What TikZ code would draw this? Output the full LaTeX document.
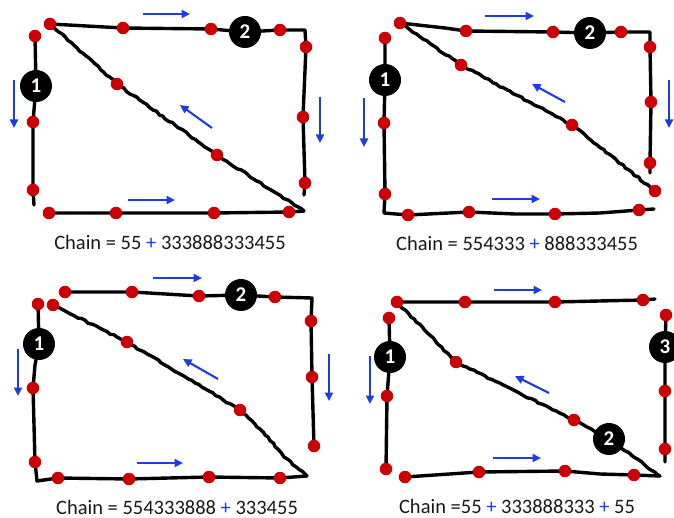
\documentclass[tikz,border=0pt]{standalone}
\usepackage{fontspec}
\setmainfont{Carlito}
\usetikzlibrary{arrows.meta,decorations.pathmorphing}
\definecolor{dotred}{RGB}{204,0,0}
\definecolor{flowblue}{RGB}{30,60,225}
\definecolor{ink}{RGB}{25,25,25}
\newcommand{\bplus}{\textcolor{flowblue}{+}}
\tikzset{
  wire/.style={line width=3.4pt, line cap=round, line join=round, black},
  rough/.style={decorate, decoration={random steps, segment length=4pt, amplitude=0.8pt}},
  dot/.style={circle, fill=dotred, inner sep=0pt, minimum size=12.5pt},
  badge/.style={circle, fill=black, inner sep=0pt, minimum size=32pt, text=white,
    font=\fontsize{21}{21}\selectfont\bfseries},
  flow/.style={flowblue, line width=2.1pt, -{Triangle[length=8.5pt,width=8pt]}},
  caption/.style={anchor=base, text=ink, inner sep=0pt, font=\fontsize{20.5}{24}\selectfont},
}
\begin{document}
\begin{tikzpicture}[x=1pt,y=-1pt]
\pgfmathsetseed{7}
\useasboundingbox (0,0) rectangle (674,518);
\fill[white] (0,0) rectangle (674,518);

% ---------------- top-left loop ----------------
\path (35,36) coordinate (A-l0) (36,86) coordinate (A-l1) (33,122) coordinate (A-l2)
      (33,190) coordinate (A-l3) (34,205) coordinate (A-l4)
      (50,24) coordinate (A-t0) (123,28) coordinate (A-t1) (211,29) coordinate (A-t2)
      (245,32) coordinate (A-t3) (280,30) coordinate (A-t4) (305,30) coordinate (A-t5)
      (306,47) coordinate (A-r1) (303,117) coordinate (A-r2) (305,183) coordinate (A-r3)
      (304,195) coordinate (A-r4)
      (49,213) coordinate (A-b0) (116,213) coordinate (A-b1) (214,213) coordinate (A-b2)
      (289,212) coordinate (A-b3) (304,211) coordinate (A-b4)
      (117,84) coordinate (A-g1) (217,155) coordinate (A-g2)
      (143,14) coordinate (A-ua) (190,14) coordinate (A-ub)
      (14,80) coordinate (A-va) (14,128) coordinate (A-vb)
      (320,97) coordinate (A-wa) (320,143) coordinate (A-wb)
      (128,200) coordinate (A-xa) (175,200) coordinate (A-xb)
      (212,128) coordinate (A-ya) (180,105) coordinate (A-yb);
\draw[wire] (A-l0) -- (A-l1) -- (A-l2) -- (A-l3) -- (A-l4);
\draw[wire] (A-t0) -- (A-t1) -- (A-t2) -- (A-t3) -- (A-t4) -- (A-t5)
            -- (A-r1) -- (A-r2) -- (A-r3) -- (A-r4);
\draw[wire] (A-b0) -- (A-b1) -- (A-b2) -- (A-b3) -- (A-b4);
\draw[wire, rough] (A-t0) -- (A-g1) -- (A-g2) -- (A-b4);
\foreach \p in {l0,l2,l3,t0,t1,t2,t4,r1,r2,r3,b0,b1,b2,b3,g1,g2}
  \node[dot] (A-d\p) at (A-\p) {};
\node[badge] (A-one) at (A-l1) {1};
\node[badge] (A-two) at (A-t3) {2};
\draw[flow] (A-ua) -- (A-ub);
\draw[flow] (A-va) -- (A-vb);
\draw[flow] (A-wa) -- (A-wb);
\draw[flow] (A-xa) -- (A-xb);
\draw[flow] (A-ya) -- (A-yb);
\node[caption] (A-cap) at (170,250) {Chain = 55 \bplus{} 333888333455};

% ---------------- top-right loop ----------------
\path (385,38) coordinate (B-l0) (385,80) coordinate (B-l1) (384,123) coordinate (B-l2)
      (385,194) coordinate (B-l3) (384,213) coordinate (B-l4)
      (408,215) coordinate (B-b1) (469,212) coordinate (B-b2) (515,214) coordinate (B-bm)
      (555,214) coordinate (B-b3) (600,213) coordinate (B-bn) (639,210) coordinate (B-b4)
      (654,209) coordinate (B-b5)
      (400,23) coordinate (B-t0) (445,28) coordinate (B-tm) (466,31) coordinate (B-t1)
      (553,32) coordinate (B-t2) (590,33) coordinate (B-t3) (621,32) coordinate (B-t4)
      (650,32) coordinate (B-t5)
      (650,47) coordinate (B-r1) (651,102) coordinate (B-r2) (650,163) coordinate (B-r3)
      (650,173) coordinate (B-r4)
      (461,65) coordinate (B-g1) (572,125) coordinate (B-g2) (655,191) coordinate (B-g3)
      (485,16) coordinate (B-ua) (534,16) coordinate (B-ub)
      (364,98) coordinate (B-va) (364,147) coordinate (B-vb)
      (669,80) coordinate (B-wa) (669,128) coordinate (B-wb)
      (492,199) coordinate (B-xa) (540,199) coordinate (B-xb)
      (565,102) coordinate (B-ya) (532,84) coordinate (B-yb);
\draw[wire] (B-l0) -- (B-l1) -- (B-l2) -- (B-l3) -- (B-l4) -- (B-b1) -- (B-b2)
            -- (B-bm) -- (B-b3) -- (B-bn) -- (B-b4) -- (B-b5);
\draw[wire] (B-t0) -- (B-tm) -- (B-t1) -- (B-t2) -- (B-t3) -- (B-t4) -- (B-t5)
            -- (B-r1) -- (B-r2) -- (B-r3) -- (B-r4);
\draw[wire, rough] (B-t0) -- (B-g1) -- (B-g2) -- (B-g3);
\foreach \p in {l0,l2,l3,b1,b2,b3,b4,t0,t1,t2,t4,r1,r2,r3,g1,g2,g3}
  \node[dot] (B-d\p) at (B-\p) {};
\node[badge] (B-one) at (B-l1) {1};
\node[badge] (B-two) at (B-t3) {2};
\draw[flow] (B-ua) -- (B-ub);
\draw[flow] (B-va) -- (B-vb);
\draw[flow] (B-wa) -- (B-wb);
\draw[flow] (B-xa) -- (B-xb);
\draw[flow] (B-ya) -- (B-yb);
\node[caption] (B-cap) at (517,251) {Chain = 554333 \bplus{} 888333455};

% ---------------- bottom-left loop ----------------
\path (38,304) coordinate (C-l0) (39,344) coordinate (C-l1) (35,365) coordinate (C-lm)
      (33,388) coordinate (C-l2) (35,462) coordinate (C-l3) (37,481) coordinate (C-l4)
      (58,478) coordinate (C-b1) (129,479) coordinate (C-b2) (209,477) coordinate (C-b3)
      (280,478) coordinate (C-b4) (307,476) coordinate (C-b5)
      (65,292) coordinate (C-t0) (132,292) coordinate (C-t1) (199,296) coordinate (C-t2)
      (241,295) coordinate (C-t3) (275,297) coordinate (C-t4) (312,298) coordinate (C-t5)
      (311,321) coordinate (C-r1) (312,377) coordinate (C-r2) (314,446) coordinate (C-r3)
      (53,305) coordinate (C-g0) (127,342) coordinate (C-g1) (240,410) coordinate (C-g2)
      (268,437) coordinate (C-gm) (284,457) coordinate (C-gn)
      (153,278) coordinate (C-ua) (202,278) coordinate (C-ub)
      (18,349) coordinate (C-va) (18,396) coordinate (C-vb)
      (329,354) coordinate (C-wa) (329,401) coordinate (C-wb)
      (137,463) coordinate (C-xa) (183,463) coordinate (C-xb)
      (218,379) coordinate (C-ya) (183,359) coordinate (C-yb);
\draw[wire] (C-l0) -- (C-l1) -- (C-lm) -- (C-l2) -- (C-l3) -- (C-l4) -- (C-b1)
            -- (C-b2) -- (C-b3) -- (C-b4) -- (C-b5);
\draw[wire] (C-t0) -- (C-t1) -- (C-t2) -- (C-t3) -- (C-t4) -- (C-t5)
            -- (C-r1) -- (C-r2) -- (C-r3);
\draw[wire, rough] (C-g0) -- (C-g1) -- (C-g2) -- (C-gm) -- (C-gn) -- (C-b5);
\foreach \p in {l0,l2,l3,b1,b2,b3,b4,t0,t1,t2,t4,r1,r2,r3,g0,g1,g2}
  \node[dot] (C-d\p) at (C-\p) {};
\node[badge] (C-one) at (C-l1) {1};
\node[badge] (C-two) at (C-t3) {2};
\draw[flow] (C-ua) -- (C-ub);
\draw[flow] (C-va) -- (C-vb);
\draw[flow] (C-wa) -- (C-wb);
\draw[flow] (C-xa) -- (C-xb);
\draw[flow] (C-ya) -- (C-yb);
\node[caption] (C-cap) at (177,514) {Chain = 554333888 \bplus{} 333455};

% ---------------- bottom-right loop ----------------
\path (397,302) coordinate (D-t0) (465,302) coordinate (D-t1) (555,302) coordinate (D-t2)
      (643,300) coordinate (D-t3) (655,299) coordinate (D-t4)
      (389,318) coordinate (D-l0) (390,357) coordinate (D-l1) (387,396) coordinate (D-l2)
      (386,469) coordinate (D-l3)
      (405,477) coordinate (D-b0) (479,472) coordinate (D-b1) (565,471) coordinate (D-b2)
      (600,474) coordinate (D-bm) (634,475) coordinate (D-b3) (660,476) coordinate (D-b4)
      (666,315) coordinate (D-r0) (665,347) coordinate (D-r1) (665,391) coordinate (D-r2)
      (665,449) coordinate (D-r3) (665,462) coordinate (D-r4)
      (456,362) coordinate (D-g1) (574,420) coordinate (D-g2) (609,439) coordinate (D-g3)
      (494,290) coordinate (D-ua) (542,290) coordinate (D-ub)
      (370,356) coordinate (D-va) (370,404) coordinate (D-vb)
      (493,458) coordinate (D-xa) (541,458) coordinate (D-xb)
      (549,393) coordinate (D-ya) (515,376) coordinate (D-yb);
\draw[wire] (D-t0) -- (D-t1) -- (D-t2) -- (D-t3) -- (D-t4);
\draw[wire] (D-l0) -- (D-l1) -- (D-l2) -- (D-l3);
\draw[wire] (D-b0) -- (D-b1) -- (D-b2) -- (D-bm) -- (D-b3) -- (D-b4);
\draw[wire] (D-r0) -- (D-r1) -- (D-r2) -- (D-r3) -- (D-r4);
\draw[wire, rough] (D-t0) -- (D-g1) -- (D-g2) -- (D-g3) -- (D-b4);
\foreach \p in {t0,t1,t2,t3,l0,l2,l3,b0,b1,b2,b3,r0,r2,r3,g1,g2}
  \node[dot] (D-d\p) at (D-\p) {};
\node[badge] (D-one) at (D-l1) {1};
\node[badge] (D-two) at (D-g3) {2};
\node[badge] (D-three) at (D-r1) {3};
\draw[flow] (D-ua) -- (D-ub);
\draw[flow] (D-va) -- (D-vb);
\draw[flow] (D-xa) -- (D-xb);
\draw[flow] (D-ya) -- (D-yb);
\node[caption] (D-cap) at (517,513) {Chain =55 \bplus{} 333888333 \bplus{} 55};
\end{tikzpicture}
\end{document}
